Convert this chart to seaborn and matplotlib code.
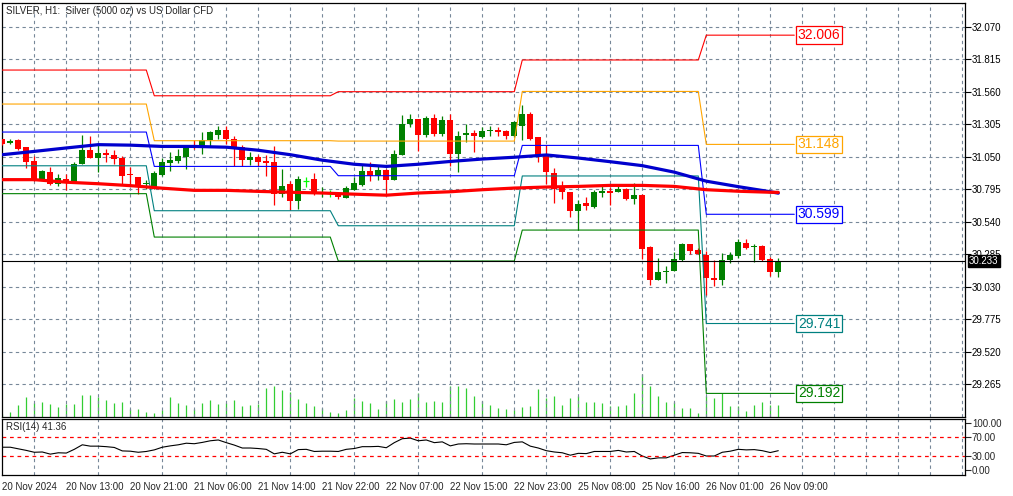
import numpy as np
import matplotlib
matplotlib.use("Agg")
import matplotlib.pyplot as plt
import matplotlib.transforms as mtransforms
import seaborn as sns

TITLE = "SILVER, H1:  Silver (5000 oz) vs US Dollar CFD"

# H1 bars, 20 Nov 05:00 -> 26 Nov 10:00
opens = [31.190, 31.159, 31.180, 31.124, 31.020, 30.878, 30.933, 30.837, 30.876, 30.847,
         30.991, 31.106, 31.044, 31.083, 31.067, 31.038, 30.918, 30.894, 30.837, 30.808,
         30.905, 31.002, 31.020, 31.046, 31.140, 31.117, 31.179, 31.224, 31.264, 31.190,
         31.128, 31.028, 31.049, 31.020, 31.010, 30.758, 30.837, 30.700, 30.857, 30.878,
         30.764, 30.769, 30.752, 30.730, 30.792, 30.831, 30.941, 30.901, 30.949, 30.871,
         31.062, 31.311, 31.350, 31.224, 31.358, 31.232, 31.342, 31.075, 31.219, 31.238,
         31.206, 31.250, 31.264, 31.256, 31.211, 31.290, 31.389, 31.203, 31.075, 30.923,
         30.824, 30.774, 30.622, 30.685, 30.656, 30.766, 30.782, 30.771, 30.800, 30.721,
         30.752, 30.340, 30.085, 30.142, 30.150, 30.239, 30.362, 30.316, 30.277, 30.101,
         30.082, 30.237, 30.271, 30.376, 30.340, 30.348, 30.245, 30.145]
highs = [31.193, 31.190, 31.190, 31.124, 31.054, 30.944, 30.970, 30.918, 30.918, 31.010,
         31.224, 31.211, 31.154, 31.114, 31.106, 31.054, 30.967, 30.894, 30.871, 30.936,
         31.041, 31.085, 31.114, 31.140, 31.179, 31.245, 31.250, 31.290, 31.295, 31.216,
         31.140, 31.085, 31.067, 31.062, 31.132, 30.957, 30.863, 30.897, 30.889, 30.923,
         30.816, 30.790, 30.769, 30.824, 30.891, 30.994, 31.010, 30.982, 30.954, 31.101,
         31.381, 31.389, 31.350, 31.373, 31.387, 31.373, 31.387, 31.256, 31.308, 31.264,
         31.282, 31.295, 31.285, 31.264, 31.329, 31.460, 31.402, 31.203, 31.140, 30.963,
         30.857, 30.774, 30.713, 30.735, 30.792, 30.818, 30.813, 30.840, 30.806, 30.844,
         30.760, 30.348, 30.255, 30.194, 30.303, 30.370, 30.362, 30.337, 30.312, 30.239,
         30.298, 30.302, 30.402, 30.402, 30.362, 30.354, 30.266, 30.254]
lows = [31.146, 31.148, 31.101, 30.963, 30.857, 30.871, 30.831, 30.818, 30.792, 30.845,
        30.991, 31.038, 30.928, 31.007, 30.996, 30.831, 30.831, 30.761, 30.800, 30.798,
        30.897, 30.941, 31.002, 30.957, 31.114, 31.075, 31.132, 31.193, 31.154, 30.975,
        30.975, 30.989, 30.975, 30.897, 30.674, 30.737, 30.630, 30.640, 30.813, 30.752,
        30.737, 30.733, 30.717, 30.730, 30.792, 30.818, 30.861, 30.871, 30.752, 30.865,
        31.062, 31.285, 31.099, 31.203, 31.211, 31.211, 30.982, 30.928, 31.164, 31.085,
        31.198, 31.211, 31.211, 31.190, 31.206, 31.185, 31.185, 31.007, 30.837, 30.687,
        30.716, 30.578, 30.473, 30.630, 30.648, 30.735, 30.668, 30.771, 30.713, 30.682,
        30.249, 30.045, 30.085, 30.063, 30.150, 30.231, 30.284, 30.284, 29.967, 30.035,
        30.041, 30.219, 30.258, 30.329, 30.223, 30.231, 30.116, 30.103]
closes = [31.154, 31.175, 31.114, 31.012, 30.878, 30.936, 30.837, 30.886, 30.845, 30.996,
          31.106, 31.044, 31.083, 31.065, 31.030, 30.897, 30.905, 30.826, 30.847, 30.923,
          31.007, 31.028, 31.054, 31.132, 31.120, 31.179, 31.242, 31.264, 31.190, 31.122,
          31.028, 31.049, 31.010, 31.002, 30.758, 30.824, 30.700, 30.878, 30.857, 30.758,
          30.775, 30.769, 30.734, 30.809, 30.844, 30.941, 30.901, 30.949, 30.871, 31.075,
          31.311, 31.350, 31.224, 31.358, 31.232, 31.342, 31.075, 31.216, 31.238, 31.211,
          31.256, 31.264, 31.248, 31.211, 31.327, 31.389, 31.193, 31.067, 30.928, 30.800,
          30.771, 30.622, 30.683, 30.661, 30.771, 30.784, 30.766, 30.800, 30.719, 30.752,
          30.327, 30.085, 30.145, 30.155, 30.248, 30.362, 30.309, 30.290, 30.101, 30.082,
          30.237, 30.276, 30.381, 30.336, 30.348, 30.237, 30.145, 30.233]
volumes = [300, 500, 1200, 2000, 1400, 1500, 1300, 1000, 1300, 1300,
           2200, 2200, 2000, 1700, 1400, 1500, 800, 800, 500, 400,
           700, 2000, 1400, 1200, 800, 1400, 1700, 1300, 1400, 1700,
           1100, 1200, 1300, 2900, 3100, 2700, 2500, 1800, 1400, 1100,
           900, 500, 400, 700, 1900, 1600, 1400, 800, 1600, 1800,
           1500, 1800, 2400, 1500, 1600, 1500, 3100, 3100, 2900, 2100,
           1600, 1200, 900, 800, 700, 1000, 1100, 2800, 1900, 2100,
           1200, 1900, 2100, 1500, 1500, 1400, 1100, 1100, 1200, 2400,
           4300, 3100, 2100, 1500, 1500, 900, 900, 400, 2100, 1900,
           2400, 1100, 1100, 600, 1200, 1500, 1200, 1200]
rsi = [48.8, 48.8, 45.4, 42.0, 38.0, 38.6, 34.0, 36.9, 36.3, 44.3,
       54.0, 51.1, 51.1, 50.0, 48.3, 40.9, 40.3, 38.0, 39.7, 43.1,
       48.8, 51.7, 54.0, 57.4, 56.3, 59.1, 62.6, 64.3, 58.6, 53.4,
       47.1, 47.1, 46.0, 44.3, 34.6, 38.0, 34.6, 43.7, 44.3, 39.7,
       40.3, 40.3, 39.7, 44.3, 46.0, 50.0, 50.0, 50.6, 47.7, 58.6,
       67.1, 68.3, 62.6, 64.3, 58.6, 60.3, 51.7, 55.7, 56.3, 55.7,
       55.7, 55.7, 55.7, 54.0, 59.1, 60.3, 51.1, 47.1, 41.4, 38.6,
       36.9, 31.7, 35.7, 35.1, 39.7, 39.7, 39.7, 42.0, 38.6, 39.7,
       30.0, 23.7, 26.0, 26.0, 31.7, 37.4, 36.9, 35.7, 30.0, 30.0,
       38.0, 40.3, 44.3, 43.1, 43.7, 41.4, 37.4, 41.36]

# moving averages, read every 4 bars
ma_bars = [0, 4, 8, 12, 16, 20, 24, 28, 32, 36, 40, 44, 48, 52, 56, 60, 64,
           68, 72, 76, 80, 84, 88, 92, 96, 97]
ma_blue = [31.067, 31.093, 31.120, 31.146, 31.142, 31.132, 31.132, 31.126, 31.102,
           31.067, 31.024, 30.992, 30.975, 30.992, 31.014, 31.033, 31.047, 31.065,
           31.041, 31.012, 30.981, 30.930, 30.859, 30.816, 30.776, 30.765]
ma_red = [30.871, 30.871, 30.851, 30.839, 30.824, 30.804, 30.787, 30.787, 30.779,
          30.772, 30.766, 30.757, 30.749, 30.766, 30.776, 30.792, 30.805, 30.813,
          30.818, 30.826, 30.826, 30.818, 30.792, 30.780, 30.772, 30.771]

# daily pivot levels: 20, 21, 22, 25, 26 Nov
day_bars = [19, 23, 23, 23, 12]
lvl_r2 = [31.732, 31.530, 31.562, 31.811, 32.006]
lvl_r1 = [31.465, 31.177, 31.174, 31.564, 31.148]
lvl_pp = [31.245, 30.975, 30.902, 31.140, 30.599]
lvl_s1 = [30.980, 30.627, 30.509, 30.900, 29.741]
lvl_s2 = [30.761, 30.420, 30.232, 30.475, 29.192]

last_price = 30.233

x_label_bars = [0, 8, 16, 24, 32, 40, 48, 56, 64, 72, 80, 88, 96]
x_labels = ["20 Nov 2024", "20 Nov 13:00", "20 Nov 21:00", "21 Nov 06:00", "21 Nov 14:00",
            "21 Nov 22:00", "22 Nov 07:00", "22 Nov 15:00", "22 Nov 23:00", "25 Nov 08:00",
            "25 Nov 16:00", "26 Nov 01:00", "26 Nov 09:00"]
price_ticks = [29.265, 29.520, 29.775, 30.030, 30.285, 30.540, 30.795,
               31.050, 31.305, 31.560, 31.815, 32.070]
rsi_ticks = [0, 30, 70, 100]

# ---------------------------------------------------------------------------
sns.set_style("white")
plt.rcParams['font.family'] = ['Liberation Sans', 'DejaVu Sans']
plt.rcParams['font.size'] = 7

UP = '#008000'
DN = '#FF0000'
DOJI = '#00FF00'
GRID = '#778899'
DASH = (0, (3, 3))
W = 1013 / 100
H = 496 / 100
XLIM = (-0.1, 120.34)

fig = plt.figure(figsize=(W, H), dpi=100)
ax = fig.add_axes([1.5 / 1013, 79.3 / 496, 963.5 / 1013, 414 / 496])
axr = fig.add_axes([1.5 / 1013, 21 / 496, 963.5 / 1013, 56.3 / 496])

# volume (twin axis, underneath)
axv = ax.twinx()
xv = np.arange(len(volumes))
axv.vlines(xv, 0, volumes, color='#32CD32', lw=0.9)
axv.set_ylim(0, 41400)
axv.set_yticks([])
axv.set_zorder(ax.get_zorder() - 1)
ax.patch.set_visible(False)
for s in axv.spines.values():
    s.set_visible(False)

# candles
o, h, l, c = (np.array(a) for a in (opens, highs, lows, closes))
x = np.arange(len(o))
up = c > o
dn = c < o
dj = c == o
ax.vlines(x[up], l[up], h[up], color=UP, lw=0.9, zorder=3)
ax.vlines(x[dn], l[dn], h[dn], color=DN, lw=0.9, zorder=3)
ax.vlines(x[dj], l[dj], h[dj], color=DOJI, lw=0.9, zorder=3)
ax.bar(x[up], np.maximum(c[up] - o[up], 0.008), bottom=o[up], width=0.7,
       color=UP, linewidth=0, zorder=3)
ax.bar(x[dn], np.maximum(o[dn] - c[dn], 0.008), bottom=c[dn], width=0.7,
       color=DN, linewidth=0, zorder=3)
ax.hlines(c[dj], x[dj] - 0.35, x[dj] + 0.35, color=DOJI, lw=0.9, zorder=3)

# pivot levels
lx = np.arange(sum(day_bars))
for vals, col in [(lvl_r2, '#FF0000'), (lvl_r1, '#FFA500'), (lvl_pp, '#0000FF'),
                  (lvl_s1, '#008080'), (lvl_s2, '#008000')]:
    sns.lineplot(x=lx, y=np.repeat(vals, day_bars), ax=ax, color=col, lw=0.8, zorder=4)
    ax.text(lx[-1] + 0.45, vals[-1], f"{vals[-1]:.3f}", color=col, fontsize=10,
            ha='left', va='center', zorder=6,
            bbox=dict(boxstyle='square,pad=0.12', fc='white', ec=col, lw=0.9))

# moving averages
sns.lineplot(x=ma_bars, y=ma_blue, ax=ax, color='#0000CD', lw=2.3, zorder=5)
sns.lineplot(x=ma_bars, y=ma_red, ax=ax, color='#FF0000', lw=2.3, zorder=5)

# last price line + tag
ax.axhline(last_price, color='black', lw=0.8, zorder=5)
tr = mtransforms.blended_transform_factory(ax.transAxes, ax.transData)
ax.text(1.004, last_price, f"{last_price:.3f}", transform=tr, color='white',
        ha='left', va='center', fontsize=7, zorder=10, clip_on=False,
        bbox=dict(boxstyle='square,pad=0.12', fc='black', ec='black'))

ax.text(0.005, 0.992, TITLE, transform=ax.transAxes, ha='left', va='top', fontsize=7)

ax.set_xlim(*XLIM)
ax.set_ylim(29.009, 32.261)
ax.yaxis.tick_right()
ax.set_yticks(price_ticks)
ax.set_yticklabels([f"{t:.3f}" for t in price_ticks])
ax.set_xticks([])
ax.set_xticks(np.arange(4, 121, 4), minor=True)
ax.tick_params(axis='y', direction='out', length=4, width=0.8, pad=1, labelsize=7, colors='black')
ax.tick_params(axis='x', which='both', length=0, labelbottom=False)
ax.grid(True, which='major', axis='y', color=GRID, ls=DASH, lw=0.8)
ax.grid(True, which='minor', axis='x', color=GRID, ls=DASH, lw=0.8)
ax.set_xlabel('')
ax.set_ylabel('')

# RSI panel
sns.lineplot(x=x, y=rsi, ax=axr, color='black', lw=0.8)
axr.axhline(70, color='red', ls=DASH, lw=0.9)
axr.axhline(30, color='red', ls=DASH, lw=0.9)
axr.text(0.005, 0.86, f"RSI(14) {rsi[-1]:.2f}", transform=axr.transAxes,
         ha='left', va='center', fontsize=7)
axr.set_xlim(*XLIM)
axr.set_ylim(-10.7, 109.9)
axr.yaxis.tick_right()
axr.set_yticks(rsi_ticks)
axr.set_yticklabels([f"{t:.2f}" for t in rsi_ticks])
axr.set_xticks(x_label_bars)
axr.set_xticklabels(x_labels, ha='left')
axr.set_xticks(np.arange(4, 121, 4), minor=True)
axr.tick_params(axis='y', direction='out', length=4, width=0.8, pad=1, labelsize=7)
axr.tick_params(axis='x', which='major', direction='out', length=4, width=0.8, pad=1, labelsize=7)
axr.tick_params(axis='x', which='minor', length=0)
axr.grid(True, which='minor', axis='x', color=GRID, ls=DASH, lw=0.8)
axr.set_xlabel('')
axr.set_ylabel('')

for a in (ax, axr):
    for s in a.spines.values():
        s.set_visible(True)
        s.set_color('black')
        s.set_linewidth(0.9)

fig.savefig('out.png', dpi=100, facecolor='white')
